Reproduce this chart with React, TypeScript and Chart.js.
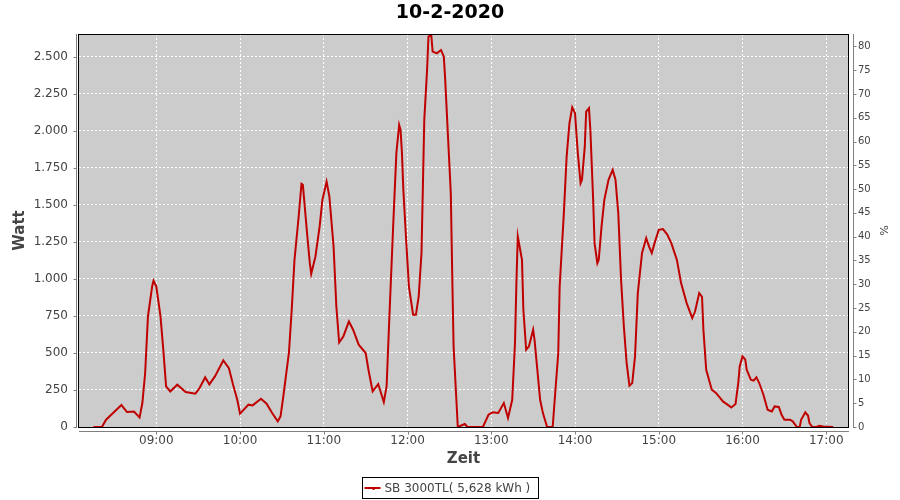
import React, { useEffect, useRef } from 'react';
import { Chart, registerables } from 'chart.js';

Chart.register(...registerables);

const TITLE = '10-2-2020';
const SERIES_LABEL = 'SB 3000TL( 5,628 kWh )';
const Y_LABEL = 'Watt';
const Y2_LABEL = '%';
const X_LABEL = 'Zeit';

const TIMES = [
  '08:15', '08:21', '08:24', '08:29', '08:35', '08:39', '08:44', '08:48', '08:50', '08:52',
  '08:54', '08:57', '08:58', '09:00', '09:03', '09:05', '09:07', '09:10', '09:15', '09:21',
  '09:28', '09:31', '09:35', '09:38', '09:42', '09:48', '09:52', '09:55', '09:58', '10:00',
  '10:06', '10:09', '10:15', '10:19', '10:23', '10:27', '10:29', '10:31', '10:35', '10:37',
  '10:39', '10:42', '10:44', '10:45', '10:48', '10:50', '10:51', '10:54', '10:57', '10:59',
  '11:02', '11:04', '11:07', '11:09', '11:11', '11:14', '11:18', '11:21', '11:25', '11:30',
  '11:32', '11:35', '11:39', '11:43', '11:45', '11:47', '11:49', '11:50', '11:52', '11:54',
  '11:55', '11:56', '11:57', '11:59', '12:01', '12:04', '12:06', '12:08', '12:10', '12:11',
  '12:12', '12:14', '12:15', '12:17', '12:18', '12:21', '12:24', '12:26', '12:27', '12:29',
  '12:31', '12:32', '12:33', '12:35', '12:36', '12:41', '12:43', '12:54', '12:58', '13:01',
  '13:05', '13:09', '13:12', '13:15', '13:17', '13:18', '13:19', '13:22', '13:23', '13:25',
  '13:27', '13:30', '13:31', '13:33', '13:35', '13:37', '13:40', '13:44', '13:46', '13:48',
  '13:49', '13:52', '13:54', '13:56', '13:58', '14:00', '14:02', '14:04', '14:05', '14:07',
  '14:08', '14:10', '14:11', '14:13', '14:14', '14:16', '14:17', '14:19', '14:21', '14:24',
  '14:27', '14:29', '14:31', '14:33', '14:35', '14:37', '14:39', '14:41', '14:43', '14:45',
  '14:48', '14:51', '14:53', '14:55', '14:57', '15:00', '15:03', '15:06', '15:09', '15:13',
  '15:16', '15:20', '15:24', '15:26', '15:29', '15:31', '15:32', '15:34', '15:38', '15:41',
  '15:46', '15:50', '15:52', '15:55', '15:57', '15:58', '16:00', '16:02', '16:03', '16:06',
  '16:08', '16:10', '16:12', '16:15', '16:18', '16:21', '16:23', '16:26', '16:28', '16:30',
  '16:34', '16:36', '16:39', '16:41', '16:42', '16:45', '16:47', '16:48', '16:50', '16:53',
  '16:55', '16:58', '17:05',
];

const WATTS = [
  0, 0, 49, 94, 148, 101, 105, 65, 162, 365,
  747, 949, 988, 949, 747, 522, 274, 240, 286, 236,
  225, 263, 335, 288, 342, 450, 398, 286, 184, 90,
  151, 146, 191, 157, 94, 38, 72, 207, 500, 790,
  1129, 1422, 1643, 1636, 1310, 1107, 1035, 1152, 1354, 1534,
  1658, 1557, 1219, 814, 571, 612, 713, 657, 556, 500,
  387, 240, 290, 169, 274, 747, 1197, 1422, 1850, 2041,
  2007, 1850, 1602, 1264, 949, 758, 758, 882, 1175, 1624,
  2075, 2412, 2637, 2648, 2536, 2525, 2547, 2502, 2345, 1962,
  1580, 1040, 544, 184, 0, 20, 0, 0, 83, 99,
  95, 162, 61, 184, 567, 972, 1287, 1129, 792, 522,
  545, 657, 589, 387, 184, 94, 0, 0, 252, 500,
  949, 1445, 1827, 2052, 2160, 2120, 1850, 1647, 1670, 1894,
  2131, 2154, 2007, 1535, 1242, 1107, 1130, 1354, 1535, 1670,
  1737, 1670, 1445, 994, 679, 432, 279, 297, 477, 905,
  1175, 1276, 1220, 1175, 1242, 1332, 1337, 1302, 1242, 1129,
  972, 837, 736, 780, 905, 880, 657, 387, 252, 230,
  173, 146, 132, 155, 300, 409, 477, 455, 387, 319,
  313, 335, 297, 218, 117, 105, 139, 135, 83, 49,
  49, 38, 0, 0, 49, 99, 76, 27, 0, 0,
  9, 4, 0,
];

// axis ranges (minutes of day for x)
const X_MIN = 484.6;
const X_MAX = 1035.6;
const Y_MAX = 2655;
const Y2_MAX = 82.6;
const Y_STEP = 250;
const Y2_STEP = 5;
const X_STEP = 60;

const FONT = 'DejaVu Sans, Verdana, sans-serif';
const TEXT_COLOR = '#444444';
const AXIS_COLOR = '#808080';
const PLOT_BG = '#cccccc';
const LINE_COLOR = '#c00000';

const toMinutes = (s: string) => {
  const [h, m] = s.split(':').map(Number);
  return h * 60 + m;
};

const fmtDe = (v: number) =>
  Math.round(v).toString().replace(/\B(?=(\d{3})+(?!\d))/g, '.');

const fmtTime = (v: number) => {
  const h = Math.floor(v / 60);
  const m = Math.round(v - h * 60);
  return `${String(h).padStart(2, '0')}:${String(m).padStart(2, '0')}`;
};

const stepTicks = (step: number) => (s: any) => {
  const out: { value: number }[] = [];
  for (let k = Math.ceil(s.min / step - 1e-9); k * step <= s.max + 1e-9; k++) {
    out.push({ value: k * step });
  }
  s.ticks = out;
};

const decorPlugin = {
  id: 'decor',
  beforeDraw(chart: any) {
    const { ctx, chartArea: a, width, height } = chart;
    ctx.save();
    ctx.fillStyle = '#ffffff';
    ctx.fillRect(0, 0, width, height);
    ctx.fillStyle = PLOT_BG;
    ctx.fillRect(a.left, a.top, a.right - a.left, a.bottom - a.top);
    ctx.restore();
  },
  afterDraw(chart: any) {
    const { ctx, chartArea: a, width } = chart;
    ctx.save();
    // plot border
    ctx.strokeStyle = '#000000';
    ctx.lineWidth = 1;
    ctx.strokeRect(a.left - 0.5, a.top + 0.5, a.right - a.left + 1, a.bottom - a.top);

    // offset axis lines and tick marks
    ctx.strokeStyle = AXIS_COLOR;
    const yS = chart.scales.y;
    const y2S = chart.scales.y2;
    const xS = chart.scales.x;
    const lx = Math.floor(a.left - 3) + 0.5;
    const rx = Math.floor(a.right + 5) + 0.5;
    const by = Math.floor(a.bottom + 4) + 0.5;
    ctx.beginPath();
    ctx.moveTo(lx, a.top);
    ctx.lineTo(lx, a.bottom + 1);
    yS.ticks.forEach((t: any) => {
      const p = Math.round(yS.getPixelForValue(t.value)) + 0.5;
      ctx.moveTo(lx, p);
      ctx.lineTo(lx - 3, p);
    });
    ctx.moveTo(rx, a.top);
    ctx.lineTo(rx, a.bottom + 1);
    y2S.ticks.forEach((t: any) => {
      const p = Math.round(y2S.getPixelForValue(t.value)) + 0.5;
      ctx.moveTo(rx, p);
      ctx.lineTo(rx + 3, p);
    });
    ctx.moveTo(a.left, by);
    ctx.lineTo(a.right + 1, by);
    xS.ticks.forEach((t: any) => {
      const p = Math.round(xS.getPixelForValue(t.value)) + 0.5;
      ctx.moveTo(p, by);
      ctx.lineTo(p, by + 3);
    });
    ctx.stroke();

    // legend box
    ctx.font = `12px ${FONT}`;
    const tw = ctx.measureText(SERIES_LABEL).width;
    const boxW = Math.round(3 + 16 + 5 + tw + 6);
    const boxH = 21;
    const bx = Math.round(width / 2 - boxW / 2) + 0.5;
    const byy = 477.5;
    ctx.fillStyle = '#ffffff';
    ctx.fillRect(bx, byy, boxW, boxH);
    ctx.strokeStyle = '#000000';
    ctx.strokeRect(bx, byy, boxW, boxH);
    const cy = byy + boxH / 2;
    ctx.strokeStyle = LINE_COLOR;
    ctx.lineWidth = 2;
    ctx.beginPath();
    ctx.moveTo(bx + 2, cy);
    ctx.lineTo(bx + 18, cy);
    ctx.moveTo(bx + 11, cy);
    ctx.lineTo(bx + 11, cy + 2);
    ctx.stroke();
    ctx.fillStyle = TEXT_COLOR;
    ctx.textBaseline = 'middle';
    ctx.textAlign = 'left';
    ctx.fillText(SERIES_LABEL, bx + 22, cy + 0.5);
    ctx.restore();
  },
};

export default function App() {
  const ref = useRef<HTMLCanvasElement | null>(null);

  useEffect(() => {
    if (!ref.current) return;
    const points = TIMES.map((t, i) => ({ x: toMinutes(t), y: WATTS[i] }));
    const chart = new Chart(ref.current, {
      type: 'line',
      data: {
        datasets: [
          {
            label: SERIES_LABEL,
            data: points,
            borderColor: LINE_COLOR,
            backgroundColor: LINE_COLOR,
            borderWidth: 2,
            pointRadius: 0,
            tension: 0,
            yAxisID: 'y',
            xAxisID: 'x',
          },
        ],
      },
      options: {
        animation: false,
        responsive: false,
        devicePixelRatio: 1,
        layout: { padding: 0 },
        plugins: {
          legend: { display: false },
          tooltip: { enabled: false },
          title: {
            display: true,
            text: TITLE,
            color: '#000000',
            font: { family: FONT, size: 19, weight: 'bold' },
            padding: { top: 2, bottom: 9.2 },
          },
        },
        scales: {
          x: {
            type: 'linear',
            position: 'bottom',
            min: X_MIN,
            max: X_MAX,
            afterFit: (s: any) => {
              s.height = 73;
            },
            afterBuildTicks: stepTicks(X_STEP),
            ticks: {
              autoSkip: false,
              maxRotation: 0,
              padding: 7,
              color: TEXT_COLOR,
              font: { family: FONT, size: 12 },
              callback: (v: any) => fmtTime(Number(v)),
            },
            grid: { color: '#ffffff', lineWidth: 1, drawTicks: false },
            border: { display: false, dash: [2, 2] },
            title: {
              display: true,
              text: X_LABEL,
              color: TEXT_COLOR,
              font: { family: FONT, size: 15, weight: 'bold' },
              padding: { top: 0, bottom: 32 },
            },
          },
          y: {
            type: 'linear',
            position: 'left',
            min: 0,
            max: Y_MAX,
            afterFit: (s: any) => {
              s.width = 79;
            },
            afterBuildTicks: stepTicks(Y_STEP),
            ticks: {
              padding: 11,
              color: TEXT_COLOR,
              font: { family: FONT, size: 12 },
              callback: (v: any) => fmtDe(Number(v)),
            },
            grid: { color: '#ffffff', lineWidth: 1, drawTicks: false },
            border: { display: false, dash: [2, 2] },
            title: {
              display: true,
              text: Y_LABEL,
              color: TEXT_COLOR,
              font: { family: FONT, size: 15, weight: 'bold' },
              padding: { top: 11, bottom: 0 },
            },
          },
          y2: {
            type: 'linear',
            position: 'right',
            display: true,
            min: 0,
            max: Y2_MAX,
            afterFit: (s: any) => {
              s.width = 52;
            },
            afterBuildTicks: stepTicks(Y2_STEP),
            ticks: {
              padding: 10,
              color: TEXT_COLOR,
              font: { family: FONT, size: 10 },
            },
            grid: { drawOnChartArea: false, drawTicks: false },
            border: { display: false },
            title: {
              display: true,
              text: Y2_LABEL,
              color: TEXT_COLOR,
              font: { family: FONT, size: 11 },
              padding: { top: 11, bottom: 0 },
            },
          },
        },
      },
      plugins: [decorPlugin],
    });
    return () => chart.destroy();
  }, []);

  return (
    <div style={{ position: 'absolute', left: 0, top: 0, width: 900, height: 500 }}>
      <canvas ref={ref} width={900} height={500} style={{ width: 900, height: 500 }} />
    </div>
  );
}
